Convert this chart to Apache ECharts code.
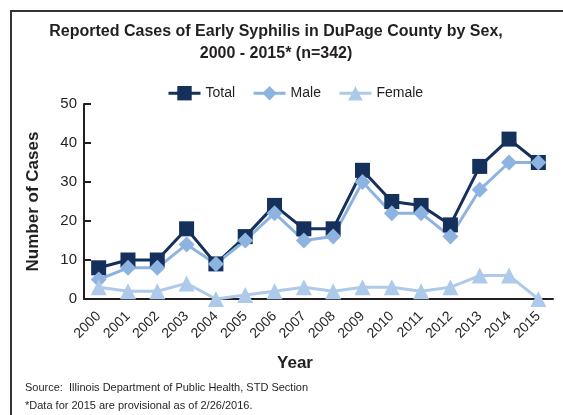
<!DOCTYPE html>
<html>
<head>
<meta charset="utf-8">
<script src="https://cdn.jsdelivr.net/npm/echarts@6/dist/echarts.min.js"></script>
<style>
  html, body { margin: 0; padding: 0; background: #fff; }
  #frame {
    position: absolute; left: 10px; top: 10px; width: 600px; height: 450px;
    border-left: 2px solid #333; border-top: 2px solid #333;
  }
  #chart { position: absolute; left: 0; top: 0; width: 563px; height: 415px; }
</style>
</head>
<body>
<div id="frame"></div>
<div id="chart"></div>
<script>
const years = ['2000', '2001', '2002', '2003', '2004', '2005', '2006', '2007',
  '2008', '2009', '2010', '2011', '2012', '2013', '2014', '2015']
const totalCases = [8, 10, 10, 18, 9, 16, 24, 18, 18, 33, 25, 24, 19, 34, 41, 35]
const maleCases = [5, 8, 8, 14, 9, 15, 22, 15, 16, 30, 22, 22, 16, 28, 35, 35]
const femaleCases = [3, 2, 2, 4, 0, 1, 2, 3, 2, 3, 3, 2, 3, 6, 6, 0]

const TOTAL_COLOR = '#15305a'
const MALE_COLOR = '#8db3e1'
const FEMALE_COLOR = '#adcaeb'
const TEXT_COLOR = '#231f20'
const FONT = 'Liberation Sans, Arial, sans-serif'

const chart = echarts.init(document.getElementById('chart'), null, { renderer: 'canvas' })

chart.setOption({
  animation: false,
  backgroundColor: 'transparent',
  textStyle: { fontFamily: FONT, color: TEXT_COLOR },
  title: [
    {
      text: 'Reported Cases of Early Syphilis in DuPage County by Sex,\n2000 - 2015* (n=342)',
      left: 271,
      top: 16,
      textAlign: 'center',
      textStyle: { fontSize: 16, fontWeight: 'bold', color: TEXT_COLOR, lineHeight: 22, fontFamily: FONT },
    },
    {
      text: 'Year',
      left: 290,
      top: 350,
      textAlign: 'center',
      textStyle: { fontSize: 17, fontWeight: 'bold', color: TEXT_COLOR, fontFamily: FONT },
    },
    {
      text: 'Source:  Illinois Department of Public Health, STD Section\n*Data for 2015 are provisional as of 2/26/2016.',
      left: 20,
      top: 374,
      textStyle: {
        fontSize: 11, fontWeight: 'normal', color: TEXT_COLOR, lineHeight: 18,
        fontFamily: 'Liberation Sans Narrow, Arial Narrow, Liberation Sans, sans-serif',
      },
    },
  ],
  legend: {
    top: 81,
    left: 162,
    itemWidth: 32,
    itemHeight: 18,
    itemGap: 17,
    lineStyle: { width: 3 },
    textStyle: { fontSize: 14, color: TEXT_COLOR, fontFamily: FONT },
    data: ['Total', 'Male', 'Female'],
  },
  grid: { left: 84, right: 10, top: 104, bottom: 116 },
  xAxis: {
    type: 'category',
    data: years,
    boundaryGap: true,
    axisLine: { lineStyle: { color: TEXT_COLOR, width: 2 } },
    axisTick: { inside: true, length: 5, lineStyle: { color: TEXT_COLOR, width: 1.5 } },
    axisLabel: { rotate: 45, fontSize: 14, color: TEXT_COLOR, margin: 15, interval: 0, fontFamily: FONT },
  },
  yAxis: {
    type: 'value',
    min: 0,
    max: 50,
    interval: 10,
    name: 'Number of Cases',
    nameLocation: 'middle',
    nameGap: 42,
    nameTextStyle: { fontSize: 17, fontWeight: 'bold', color: TEXT_COLOR, fontFamily: FONT },
    axisLine: { show: true, lineStyle: { color: TEXT_COLOR, width: 2 } },
    axisTick: { show: true, inside: true, length: 7, lineStyle: { color: TEXT_COLOR, width: 2 } },
    axisLabel: { fontSize: 15, color: TEXT_COLOR, margin: 7, fontFamily: FONT },
    splitLine: { show: false },
  },
  series: [
    {
      name: 'Total',
      type: 'line',
      data: totalCases,
      symbol: 'rect',
      symbolSize: 15,
      lineStyle: { width: 3, color: TOTAL_COLOR },
      itemStyle: { color: TOTAL_COLOR },
    },
    {
      name: 'Male',
      type: 'line',
      data: maleCases,
      symbol: 'diamond',
      symbolSize: 16,
      lineStyle: { width: 3, color: MALE_COLOR },
      itemStyle: { color: MALE_COLOR },
    },
    {
      name: 'Female',
      type: 'line',
      data: femaleCases,
      symbol: 'triangle',
      symbolSize: 16,
      lineStyle: { width: 3, color: FEMALE_COLOR },
      itemStyle: { color: FEMALE_COLOR },
    },
  ],
})
</script>
</body>
</html>
